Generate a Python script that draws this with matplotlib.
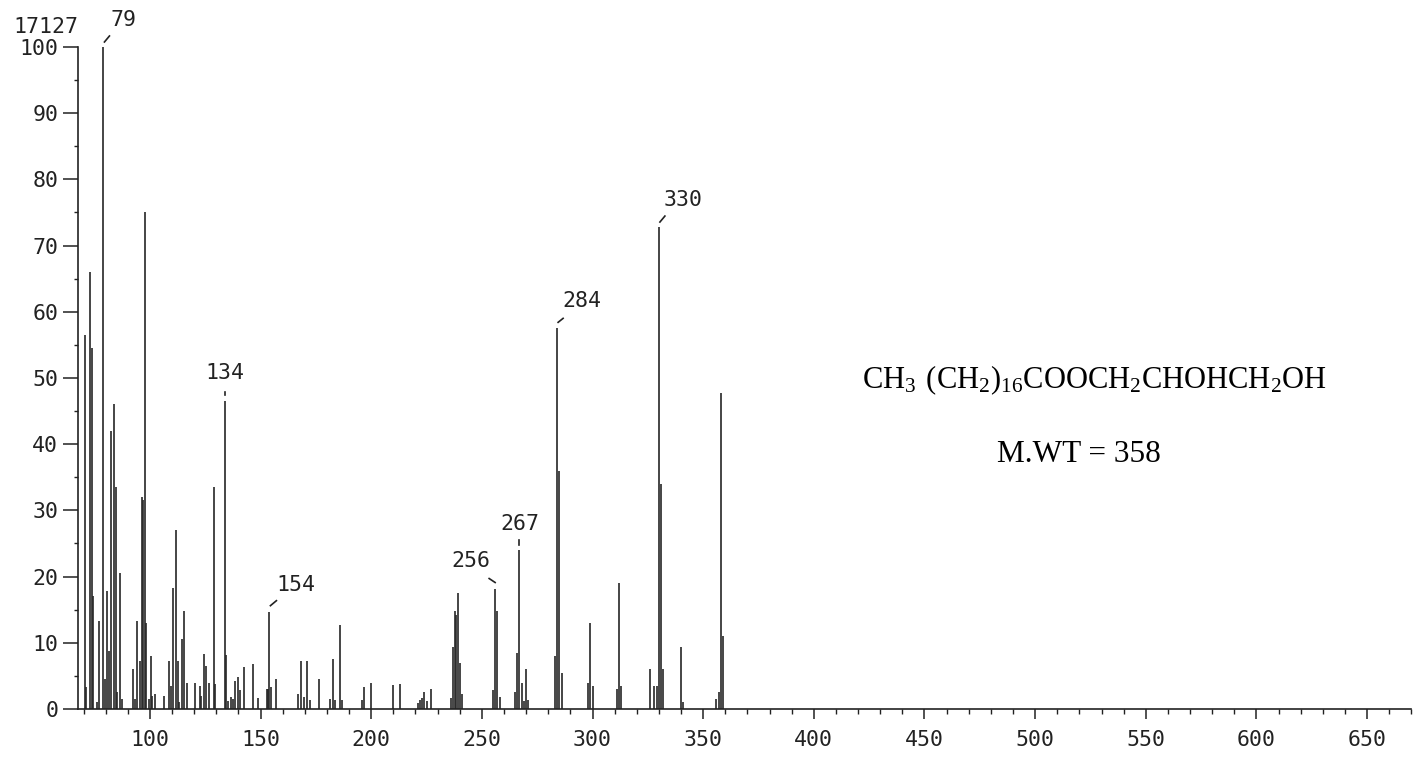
import matplotlib
matplotlib.use("Agg")
import matplotlib.pyplot as plt
from matplotlib.lines import Line2D
from matplotlib.transforms import IdentityTransform
from matplotlib.ticker import MultipleLocator

# peak positions (m/z) and relative intensity (%)
mz = [70.5, 71.1, 72.9, 73.7, 74.4, 76.3, 77.0, 79.0, 79.6, 80.4,
      81.3, 82.6, 83.7, 84.6, 85.1, 86.4, 87.4, 92.2, 93.1, 94.3,
      95.6, 96.5, 97.1, 97.7, 98.3, 99.4, 100.4, 101.0, 102.4, 106.4,
      108.5, 109.4, 110.3, 111.7, 112.6, 113.3, 114.6, 115.6, 116.7, 120.5,
      122.5, 123.2, 124.6, 125.2, 126.6, 129.0, 129.5, 134.0, 134.5, 135.5,
      136.5, 137.5, 138.6, 139.6, 140.6, 142.5, 146.6, 148.8, 152.8, 153.4,
      154.0, 154.8, 157.1, 166.8, 168.2, 169.5, 171.2, 172.2, 176.3, 181.4,
      182.6, 183.5, 185.7, 186.8, 195.7, 196.8, 200.0, 210, 213, 221,
      222, 223, 224, 225, 227, 236, 237, 238, 238.5, 239,
      240, 241, 255, 256, 257, 258, 265, 266, 267, 268,
      269, 270, 271, 283, 284, 285, 286, 298, 299, 300,
      311, 312, 313, 326, 328, 329, 330, 331, 332, 340,
      341, 356, 357, 358, 359]
intensity = [56.5, 3.3, 66, 54.5, 17, 1, 13.3, 100, 4.5, 17.8,
             8.7, 42, 46, 33.5, 2.5, 20.5, 1.5, 6, 1.5, 13.3,
             7.3, 32, 31.5, 75, 13, 1.5, 8, 2, 2.3, 2,
             7.3, 3.5, 18.3, 27, 7.3, 1, 10.5, 14.8, 4, 4,
             3.5, 2, 8.3, 6.5, 4, 33.5, 3.8, 46.5, 8.2, 1.2,
             1.8, 1.5, 4.2, 4.9, 2.8, 6.3, 6.8, 1.6, 3, 3,
             14.7, 3.3, 4.5, 2.3, 7.3, 1.8, 7.3, 1.3, 4.5, 1.5,
             7.6, 1.3, 12.7, 1.3, 1.3, 3.3, 4, 3.6, 3.8, 0.9,
             1.3, 1.6, 2.6, 1.2, 3, 1.7, 9.3, 14.8, 14.2, 17.5,
             7, 2.3, 2.8, 18.2, 14.8, 1.8, 2.6, 8.5, 24, 4,
             1.2, 6, 1.3, 8, 57.5, 36, 5.5, 4, 13, 3.5,
             3, 19, 3.5, 6, 3.5, 3.5, 72.8, 34, 6, 9.3,
             1, 1.5, 2.5, 47.8, 11]

labelled_peaks = [79, 134, 154, 256, 267, 284, 330]
total_ion_count = "17127"
formula = r"$\mathregular{CH_3\ (CH_2)_{16}COOCH_2CHOHCH_2OH}$"
mol_weight = "M.WT = 358"

PLOT_FONT = "DejaVu Sans Mono"
INK = "#222222"
FS = 15.5

fig = plt.figure(figsize=(14.18, 7.64), dpi=100)
ax = fig.add_axes([0.055, 0.072, 0.9403, 0.8665])

ax.vlines(mz, 0, intensity, colors="#262626", linewidth=1.2)

ax.set_xlim(67.5, 670)
ax.set_ylim(0, 100)

ax.spines["top"].set_visible(False)
ax.spines["right"].set_visible(False)
for s in ("left", "bottom"):
    ax.spines[s].set_color(INK)
    ax.spines[s].set_linewidth(1.2)

ax.xaxis.set_minor_locator(MultipleLocator(10))
ax.yaxis.set_major_locator(MultipleLocator(10))
ax.yaxis.set_minor_locator(MultipleLocator(5))
ax.set_xticks(range(100, 651, 50))

ax.tick_params(axis="x", which="major", length=7.2, width=1.1, pad=8, color=INK)
ax.tick_params(axis="x", which="minor", length=3.6, width=1.0, color=INK)
ax.tick_params(axis="y", which="major", length=10.8, width=1.1, pad=3.5, color=INK)
ax.tick_params(axis="y", which="minor", length=2.9, width=1.0, color=INK)
for lab in ax.get_xticklabels() + ax.get_yticklabels():
    lab.set_fontfamily(PLOT_FONT)
    lab.set_fontsize(FS)
    lab.set_color(INK)

# peak labels with the little plotter strokes, offsets in pixels
# (dx1, dy1, dx2, dy2) for the stroke, (tx, ty, ha) for the text
label_style = {
    79: ((1, 5, 6, 11), (7, 17, "left")),
    134: ((0, 6, 0, 9), (0, 18, "center")),
    154: ((1, 6, 7, 11), (7, 17, "left")),
    256: ((-6, 10, 0, 6), (-5, 18, "right")),
    267: ((0, 5, 0, 10), (0, 16, "center")),
    284: ((1, 6, 6, 10), (5, 17, "left")),
    330: ((1, 5, 6, 11), (5, 17, "left")),
}
for p in labelled_peaks:
    h = intensity[mz.index(p)]
    x0, y0 = ax.transData.transform((p, h))
    (a, b, c, d), (tx, ty, ha) = label_style[p]
    fig.add_artist(Line2D([x0 + a, x0 + c], [y0 + b, y0 + d], color=INK,
                          linewidth=1.2, transform=IdentityTransform()))
    fig.text(x0 + tx, y0 + ty, str(p), transform=IdentityTransform(),
             ha=ha, va="bottom", fontfamily=PLOT_FONT, fontsize=FS, color=INK)

fig.text(0.0092, 0.9568, total_ion_count, ha="left", va="baseline",
         fontfamily=PLOT_FONT, fontsize=FS, color=INK)

fig.text(0.6079, 0.4921, formula, ha="left", va="baseline",
         fontfamily="Liberation Serif", fontsize=22, color="black")
fig.text(0.7031, 0.3953, mol_weight, ha="left", va="baseline",
         fontfamily="Liberation Serif", fontsize=22.5, color="black")

fig.savefig("out.png", dpi=100)
